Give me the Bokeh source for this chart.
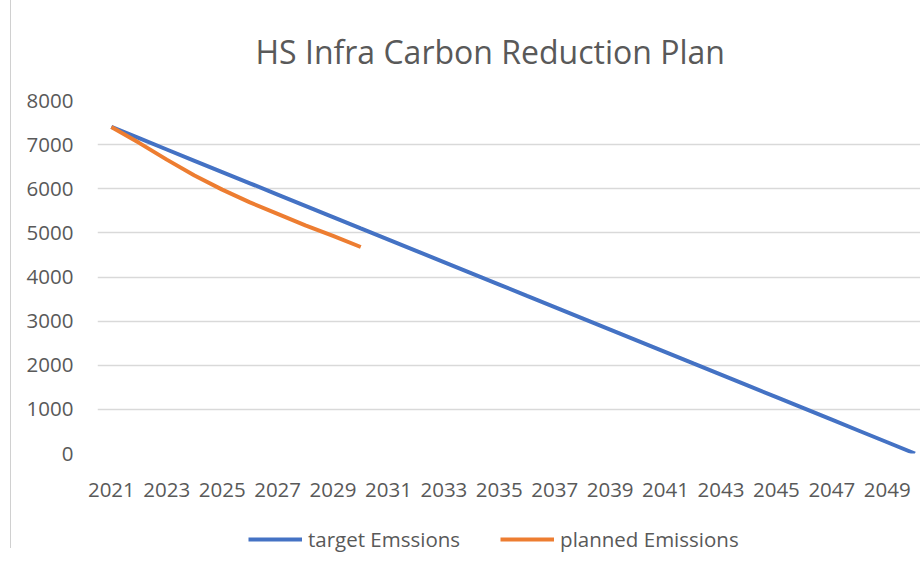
from bokeh.plotting import figure
from bokeh.models import Range1d, FixedTicker, Legend, LegendItem
from bokeh.layouts import column
from bokeh.embed import file_html
from bokeh.resources import INLINE

years = [2021, 2022, 2023, 2024, 2025, 2026, 2027, 2028, 2029, 2030,
         2031, 2032, 2033, 2034, 2035, 2036, 2037, 2038, 2039, 2040,
         2041, 2042, 2043, 2044, 2045, 2046, 2047, 2048, 2049, 2050]
target_emissions = [7400, 7145, 6890, 6634, 6379, 6124, 5869, 5614, 5359, 5103,
                    4848, 4593, 4338, 4083, 3828, 3572, 3317, 3062, 2807, 2552,
                    2297, 2041, 1786, 1531, 1276, 1021, 766, 510, 255, 0]
planned_years = [2021, 2022, 2023, 2024, 2025, 2026, 2027, 2028, 2029, 2030]
planned_emissions = [7400, 7040, 6660, 6300, 5980, 5690, 5430, 5170, 4930, 4680]
x_tick_years = [2021, 2023, 2025, 2027, 2029, 2031, 2033, 2035, 2037, 2039,
                2041, 2043, 2045, 2047, 2049]
y_ticks = [0, 1000, 2000, 3000, 4000, 5000, 6000, 7000, 8000]
series_labels = ["target Emssions", "planned Emissions"]

FONT = "Open Sans"
TXT = "#595959"
BLUE = "#4472C4"
ORANGE = "#ED7D31"

p = figure(width=920, height=520, output_backend="svg", toolbar_location=None,
           x_range=Range1d(2020.5, 2050.2), y_range=Range1d(0, 8000),
           min_border_left=97, min_border_top=100, min_border_bottom=67,
           min_border_right=0, background_fill_color="white",
           border_fill_color="white", border_fill_alpha=0)

p.title.text = "HS Infra Carbon Reduction Plan"
p.title.align = "left"
p.title.offset = 158
p.title.text_font = FONT
p.title.text_font_size = "32px"
p.title.text_font_style = "normal"
p.title.text_color = TXT
p.title.standoff = 55

p.outline_line_color = None
p.xgrid.grid_line_color = None
p.ygrid.grid_line_color = "#d9d9d9"
p.ygrid.grid_line_width = 1.5

p.xaxis.ticker = FixedTicker(ticks=x_tick_years)
p.xaxis.major_label_overrides = {y: str(y) for y in x_tick_years}
p.yaxis.ticker = FixedTicker(ticks=y_ticks)
for ax in (p.xaxis, p.yaxis):
    ax.axis_line_color = None
    ax.major_tick_line_color = None
    ax.minor_tick_line_color = None
    ax.major_tick_out = 0
    ax.major_tick_in = 0
    ax.major_label_text_font = FONT
    ax.major_label_text_font_size = "20.5px"
    ax.major_label_text_color = TXT
p.xaxis.major_label_standoff = 29
p.yaxis.major_label_standoff = 24

p.line(years, target_emissions, line_color=BLUE, line_width=4)
p.line(planned_years, planned_emissions, line_color=ORANGE, line_width=4)

# legend strip below the chart (its own lines are kept out of view)
p2 = figure(width=920, height=44, output_backend="svg", toolbar_location=None,
            x_range=Range1d(0, 1), y_range=Range1d(0, 1),
            x_axis_location=None, y_axis_location=None,
            min_border=0, background_fill_color="white",
            border_fill_color="white", border_fill_alpha=0)
p2.outline_line_color = None
p2.grid.grid_line_color = None
l1 = p2.line(years, target_emissions, line_color=BLUE, line_width=4)
l2 = p2.line(planned_years, planned_emissions, line_color=ORANGE, line_width=4)

legend = Legend(items=[LegendItem(label=series_labels[0], renderers=[l1]),
                       LegendItem(label=series_labels[1], renderers=[l2])],
                orientation="horizontal", location=(151, 11),
                label_text_font=FONT, label_text_font_size="20.5px",
                label_text_color=TXT, glyph_width=54, glyph_height=20,
                spacing=40, label_standoff=6, border_line_color=None,
                background_fill_alpha=0, padding=0, margin=0)
p2.add_layout(legend, "center")

layout = column(p, p2, spacing=0, styles={
    "background-color": "white",
    "background-image": "linear-gradient(to right, white 10px, #d0d0d0 10px, #d0d0d0 11px, white 11px)",
    "background-size": "100% 548px",
    "background-repeat": "no-repeat",
})
open("out.html", "w").write(file_html(layout, INLINE))
